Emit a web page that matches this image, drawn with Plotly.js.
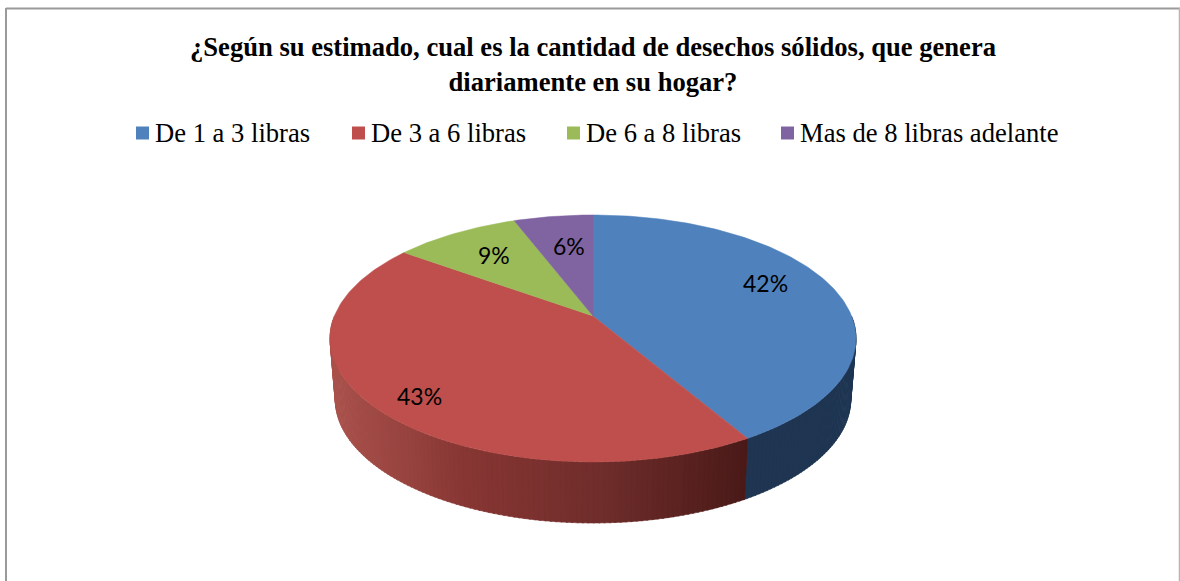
<!DOCTYPE html>
<html>
<head>
<meta charset="utf-8">
<script src="https://cdn.plot.ly/plotly-3.0.1.min.js"></script>
<style>
html, body { margin: 0; padding: 0; background: #fff; overflow: hidden; }
#plot { width: 1180px; height: 581px; }
</style>
</head>
<body>
<div id="plot"></div>
<script>
// chart values
var categories = ["De 1 a 3 libras", "De 3 a 6 libras", "De 6 a 8 libras", "Mas de 8 libras adelante"];
var percents = [41.6, 43.4, 9.2, 5.8];
var colors = ["#4f81bd", "#be4f4c", "#9bbb59", "#8064a2"];
var titleText = "¿Según su estimado, cual es la cantidad de desechos sólidos, que genera<br>diariamente en su hogar?";

// the axes run in page pixels, so this is the tilted pie's shape on them
var cx = 593, cy = 316, radiusX = 258.6, radiusY = 119.4, tilt = 0.182;
var depth = 61, bottomScale = 0.98;

// angle in degrees, clockwise from 12 o'clock, projected with a bit of perspective
function rim(deg) {
    var a = deg * Math.PI / 180;
    var w = 1 + tilt * Math.cos(a);
    return [cx + radiusX * Math.sin(a) / w, cy - radiusY * Math.cos(a) / w];
}

function lower(p) {
    return [cx + (p[0] - cx) * bottomScale, p[1] + depth];
}

// red wall shading runs left to right across the page
var shadeX = [330, 463, 600, 745];
var shadeRGB = [[170, 82, 76], [135, 54, 51], [111, 45, 43], [74, 26, 24]];

function shade(x) {
    var i = 0;
    while (i < shadeX.length - 2 && x > shadeX[i + 1]) i++;
    var t = Math.min(1, Math.max(0, (x - shadeX[i]) / (shadeX[i + 1] - shadeX[i])));
    var out = [];
    for (var k = 0; k < 3; k++) out.push(Math.round(shadeRGB[i][k] + (shadeRGB[i + 1][k] - shadeRGB[i][k]) * t));
    return "rgb(" + out.join(",") + ")";
}

var total = percents.reduce(function (s, v) { return s + v; }, 0);
var edges = [0];
percents.forEach(function (v) { edges.push(edges[edges.length - 1] + v / total * 360); });

var traces = [];

// side wall, only the part facing us (90 to 270 degrees)
function sideStrip(from, to, color) {
    var p1 = rim(from), p2 = rim(to), q1 = lower(p1), q2 = lower(p2);
    traces.push({
        x: [p1[0], p2[0], q2[0], q1[0], p1[0]],
        y: [p1[1], p2[1], q2[1], q1[1], p1[1]],
        mode: "lines",
        type: "scatter",
        fill: "toself",
        fillcolor: color,
        line: { width: 0.6, color: color },
        hoverinfo: "skip"
    });
}

var step = 1;
var seam = edges[1];
for (var d = 90; d < seam; d += step) {
    sideStrip(d, Math.min(d + step + 0.3, seam), "#1f3552");
}
for (var d2 = 270; d2 > seam; d2 -= step) {
    sideStrip(Math.max(d2 - step - 0.3, seam), d2, shade(rim(d2)[0]));
}

// top face, one wedge per category
categories.forEach(function (name, i) {
    var xs = [cx], ys = [cy];
    for (var a = edges[i]; a < edges[i + 1]; a += 1) {
        var p = rim(a);
        xs.push(p[0]);
        ys.push(p[1]);
    }
    var end = rim(edges[i + 1]);
    xs.push(end[0], cx);
    ys.push(end[1], cy);
    traces.push({
        x: xs,
        y: ys,
        mode: "lines",
        type: "scatter",
        name: name,
        fill: "toself",
        fillcolor: colors[i],
        line: { width: 0.5, color: colors[i] },
        hoverinfo: "name"
    });
});

// legend row
var legendX = [142.5, 358.5, 573.5, 787.5];
var legendY = 133;
categories.forEach(function (name, i) {
    traces.push({
        x: [legendX[i]],
        y: [legendY],
        mode: "markers",
        type: "scatter",
        name: name,
        marker: { symbol: "square", size: 13, color: colors[i] },
        hoverinfo: "skip"
    });
});

var annotations = categories.map(function (name, i) {
    return {
        x: legendX[i] + 10.5,
        y: legendY,
        xanchor: "left",
        text: name,
        showarrow: false,
        font: { family: "Liberation Serif", size: 26.6, color: "#000" }
    };
});

// data labels
var labelX = [765, 419, 494, 569];
var labelY = [283, 396, 255, 246];
percents.forEach(function (v, i) {
    annotations.push({
        x: labelX[i],
        y: labelY[i],
        text: Math.round(v) + "%",
        showarrow: false,
        font: { family: "Lato", size: 23, color: "#000" }
    });
});

var layout = {
    width: 1180,
    height: 581,
    margin: { l: 0, r: 0, t: 0, b: 0 },
    paper_bgcolor: "#fff",
    plot_bgcolor: "#fff",
    showlegend: false,
    title: {
        text: titleText,
        font: { family: "Liberation Serif", size: 26.6, color: "#000", weight: "bold" },
        x: 593 / 1180,
        xanchor: "center",
        y: 1 - 56 / 581,
        yanchor: "middle"
    },
    xaxis: { range: [0, 1180], visible: false, fixedrange: true },
    yaxis: { range: [581, 0], visible: false, fixedrange: true },
    annotations: annotations,
    shapes: [
        { type: "line", x0: 6, x1: 6, y0: 8, y1: 581, line: { color: "#9a9a9a", width: 2 } },
        { type: "line", x0: 6, x1: 1180, y0: 8.5, y1: 8.5, line: { color: "#9a9a9a", width: 2 } },
        { type: "line", x0: 1179.5, x1: 1179.5, y0: 8, y1: 581, line: { color: "#b5b5b5", width: 1.5 } }
    ]
};

Plotly.newPlot("plot", traces, layout, { displayModeBar: false, staticPlot: true });
</script>
</body>
</html>
